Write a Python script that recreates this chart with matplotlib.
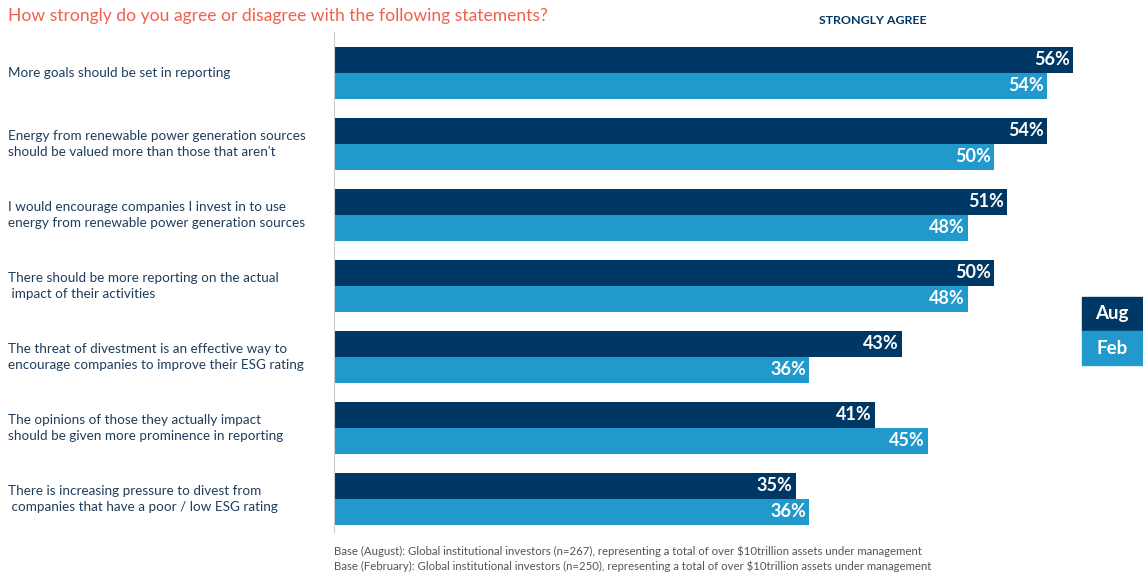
import numpy as np
import matplotlib
matplotlib.use("Agg")
import matplotlib.pyplot as plt

plt.rcParams["font.family"] = ["Lato", "DejaVu Sans"]

statements = [
    "More goals should be set in reporting",
    "Energy from renewable power generation sources\nshould be valued more than those that aren't",
    "I would encourage companies I invest in to use\nenergy from renewable power generation sources",
    "There should be more reporting on the actual\n impact of their activities",
    "The threat of divestment is an effective way to\nencourage companies to improve their ESG rating",
    "The opinions of those they actually impact\nshould be given more prominence in reporting",
    "There is increasing pressure to divest from\n companies that have a poor / low ESG rating",
]
aug = [56, 54, 51, 50, 43, 41, 35]
feb = [54, 50, 48, 48, 36, 45, 36]
series_names = ["Aug", "Feb"]

NAVY = "#003865"
LIGHT = "#2299cc"
TEXT = "#1f3d5c"

W, H = 1143, 576
fig = plt.figure(figsize=(W / 100, H / 100), dpi=100)

# axes placed in pixel terms: left edge 334px, top 32px, bottom 532px
ax = fig.add_axes([334 / W, 1 - 532 / H, (W - 334) / W, 500 / H])
ax.set_xlim(0, (W - 334) / 13.2)
ax.set_ylim(6.465, -0.577)

y = np.arange(len(statements))
bh = 0.366
ax.barh(y - bh / 2, aug, height=bh, color=NAVY)
ax.barh(y + bh / 2, feb, height=bh, color=LIGHT)

pad = 0.25
for i in range(len(statements)):
    ax.text(aug[i] - pad, y[i] - bh / 2, f"{aug[i]}%", ha="right", va="center",
            color="white", fontsize=13, fontweight="bold")
    ax.text(feb[i] - pad, y[i] + bh / 2, f"{feb[i]}%", ha="right", va="center",
            color="white", fontsize=13, fontweight="bold")
    fig.text(8 / W, 1 - (73 + 71 * i) / H, statements[i], ha="left", va="center",
             color=TEXT, fontsize=9.75, linespacing=1.4)

for s in ["top", "right", "bottom"]:
    ax.spines[s].set_visible(False)
ax.spines["left"].set_color("#cccccc")
ax.set_xticks([])
ax.set_yticks([])
ax.patch.set_alpha(0)

fig.text(8 / W, 1 - 16 / H, "How strongly do you agree or disagree with the following statements?",
         ha="left", va="center", color="#f0604f", fontsize=12.65)
fig.text(873 / W, 1 - 21 / H, "STRONGLY AGREE", ha="center", va="center",
         color=NAVY, fontsize=8.9, fontweight="bold")

# legend boxes
for k, (name, col) in enumerate(zip(series_names, [NAVY, LIGHT])):
    top = 297 + 34 * k
    fig.patches.append(plt.Rectangle((1082 / W, 1 - (top + 34) / H), 61 / W, 34 / H,
                                     transform=fig.transFigure, color=col, zorder=0))
    fig.text(1112 / W, 1 - (top + 17) / H, name, ha="center", va="center",
             color="white", fontsize=13.5, fontweight="bold")

fig.text(334 / W, 1 - 551 / H,
         "Base (August): Global institutional investors (n=267), representing a total of over $10trillion assets under management",
         ha="left", va="center", color="#555555", fontsize=8.2)
fig.text(334 / W, 1 - 566 / H,
         "Base (February): Global institutional investors (n=250), representing a total of over $10trillion assets under management",
         ha="left", va="center", color="#555555", fontsize=8.2)

fig.savefig("out.png", dpi=100)
